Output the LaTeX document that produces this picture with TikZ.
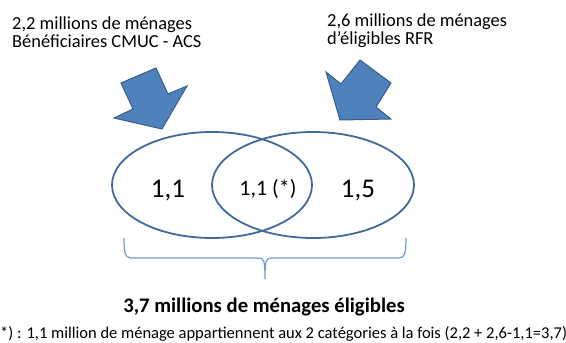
\documentclass[tikz,border=0pt]{standalone}
\usepackage{fontspec}
\setmainfont{Carlito}
\usepackage{tikz}

\definecolor{flechebleu}{RGB}{79,129,189}
\definecolor{bordbleu}{RGB}{56,93,138}
\definecolor{ellipsebleu}{RGB}{65,105,155}
\definecolor{accoladebleu}{RGB}{110,155,210}

\begin{document}
\begin{tikzpicture}[x=1pt, y=-1pt,
    titre/.style={anchor=base west, inner sep=0pt, align=left,
        font=\fontsize{18.4}{18}\selectfont},
    nombre/.style={anchor=base, inner sep=0pt, font=\fontsize{27}{30}\selectfont},
    fleche/.style={fill=flechebleu, draw=bordbleu, line width=1pt, line join=miter}]
            \useasboundingbox (0,0) rectangle (566,343);

            % Titles of the two groups (anchor on the last line)
            \node[titre] (cmuc) at (12,47) {2,2 millions de ménages\\Bénéficiaires CMUC - ACS};
            \node[titre] (rfr) at (327,44) {2,6 millions de ménages\\d’éligibles RFR};

            % Block arrows
            \filldraw[fleche]
            (156,68) -- (168,94) -- (187,86) -- (162,129) -- (114,118) -- (133,109) -- (121,83) -- cycle;
            \filldraw[fleche]
            (360,60) -- (391,83) -- (376,107) -- (391,119) -- (340,120) -- (326,72) -- (341,84) -- cycle;

            % Venn ellipses
            \draw[ellipsebleu, line width=1.8pt] (212,185) ellipse (100 and 53);
            \draw[ellipsebleu, line width=1.8pt] (313,185) ellipse (101 and 53);

            % Counts
            \node[nombre] (gauche) at (168,197) {1,1};
            \node[nombre, font=\fontsize{22}{24}\selectfont] (inter) at (268,195) {1,1 (*)};
            \node[nombre] (droite) at (358,197) {1,5};

            % Brace under the ellipses
            \draw[accoladebleu, line width=1.2pt]
            (124,238) .. controls (124,252) and (125,258) .. (131,258) -- (259,258)
            .. controls (264,258) and (265,261) .. (265,279)
            .. controls (265,261) and (266,258) .. (271,258) -- (399,258)
            .. controls (405,258) and (406,252) .. (406,238);

            % Total and note
            \node[anchor=base, inner sep=0pt, font=\fontsize{20.7}{24}\selectfont\bfseries] (total) at (264,312)
            {3,7 millions de ménages éligibles};
            \node[anchor=base west, inner sep=0pt, font=\fontsize{16.5}{18}\selectfont] (note) at (-5,338)
            {(*) : 1,1 million de ménage appartiennent aux 2 catégories à la fois (2,2 + 2,6-1,1=3,7)};
        \end{tikzpicture}
\end{document}
